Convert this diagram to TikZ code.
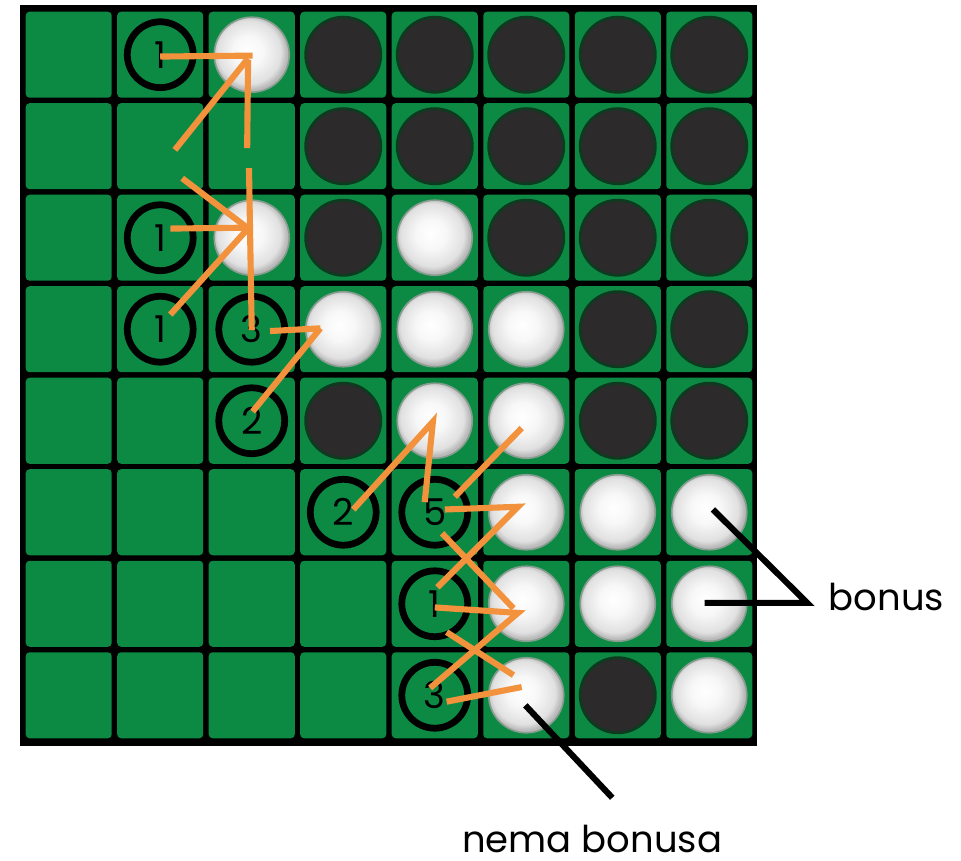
\documentclass[tikz,border=0pt]{standalone}
\usepackage{fontspec}
\setmainfont{Poppins}
\usetikzlibrary{positioning}

\definecolor{boardgreen}{RGB}{12,138,68}
\definecolor{moveorange}{RGB}{243,146,60}
\definecolor{discblack}{RGB}{44,42,43}
\definecolor{discrim}{RGB}{14,58,32}
\pgfdeclareradialshading{whiteshade}{\pgfpoint{-3bp}{3bp}}{color(0bp)=(white); color(10bp)=(white!97!black); color(21bp)=(white!88!black); color(25bp)=(white!72!black); color(50bp)=(white!72!black)}

\begin{document}
\begin{tikzpicture}[
    cell/.style={fill=boardgreen, rounded corners=1.2pt},
    whitedisc/.style={circle, minimum size=0.82cm, inner sep=0pt,
                      shading=whiteshade, draw=discrim!50, line width=0.5pt},
    blackdisc/.style={circle, minimum size=0.82cm, inner sep=0pt,
                      fill=discblack, draw=discrim, line width=0.9pt},
    marker/.style={circle, minimum size=0.72cm, inner sep=0pt, draw=black,
                   line width=2.1pt, font=\fontsize{11.5}{13}\selectfont},
    move/.style={draw=moveorange, line width=1.9pt},
    leader/.style={draw=black, line width=1.9pt},
    lbl/.style={font=\fontsize{11.5}{14}\selectfont, inner sep=0pt}
  ]
    \useasboundingbox (-0.251,-1.311) rectangle (10.251,8.098);

    % Squares a1..h8, row 1 on top
    \foreach \col [count=\i] in {a,b,c,d,e,f,g,h}
      \foreach \row in {1,...,8}
        \coordinate (\col\row) at (\i-0.5,8.5-\row);

    % Board
    \fill[black] (-0.03,-0.05) rectangle (8.02,8.04);
    \foreach \x in {0,...,7}
      \foreach \y in {0,...,7}
        \path[cell] (\x+0.03,\y+0.03) rectangle (\x+0.97,\y+0.97);

    % Discs
    \foreach \sq in {c1,c3,e3,d4,e4,f4,e5,f5,f6,g6,h6,f7,g7,h7,f8,h8}
      \node[whitedisc] (w-\sq) at (\sq) {};
    \foreach \sq in {d1,e1,f1,g1,h1,d2,e2,f2,g2,h2,d3,f3,g3,h3,g4,h4,d5,g5,h5,g8}
      \node[blackdisc] (b-\sq) at (\sq) {};

    % Candidate moves with their counts
    \foreach \sq/\n in {b1/1,b3/1,b4/1,c4/3,c5/2,d6/2,e6/5,e7/1,e8/3}
      \node[marker] (m-\sq) at (\sq) {\n};

    % Flip lines
    \draw[move] (1.50,7.48) -- (2.51,7.49);
    \draw[move] (1.66,6.46) -- (2.46,7.46);
    \draw[move] (2.46,7.44) -- (2.45,6.48);
    \draw[move] (2.47,6.26) -- (2.50,4.49);
    \draw[move] (1.74,6.15) -- (2.45,5.61);
    \draw[move] (1.61,5.60) -- (2.45,5.61);
    \draw[move] (1.61,4.66) -- (2.45,5.59);
    \draw[move] (2.70,4.48) -- (3.25,4.51);
    \draw[move] (2.51,3.60) -- (3.25,4.51);
    \draw[move] (3.61,2.53) -- (4.48,3.49) -- (4.39,2.61);
    \draw[move] (4.72,2.67) -- (5.45,3.42);
    \draw[move] (4.61,2.53) -- (5.41,2.56) -- (4.53,1.68);
    \draw[move] (4.58,2.27) -- (5.36,1.45);
    \draw[move] (4.50,1.46) -- (5.41,1.40) -- (4.45,0.58);
    \draw[move] (4.63,1.19) -- (5.36,0.72);
    \draw[move] (4.63,0.43) -- (5.45,0.59);

    % Labels
    \coordinate (nematip) at (5.49,0.39);
    \coordinate (nemaend) at (6.44,-0.62);
    \draw[leader] (nematip) -- (nemaend);
    \node[lbl, anchor=base] (nema) at (6.22,-1.22) {nema bonusa};

    \coordinate (bonustipa) at (7.54,2.53);
    \coordinate (bonustipb) at (7.45,1.51);
    \coordinate (bonusvertex) at (8.57,1.51);
    \draw[leader] (bonustipa) -- (bonusvertex) -- (bonustipb);
    \node[lbl, anchor=base west] (bonus) at (8.80,1.43) {bonus};
  \end{tikzpicture}
\end{document}
